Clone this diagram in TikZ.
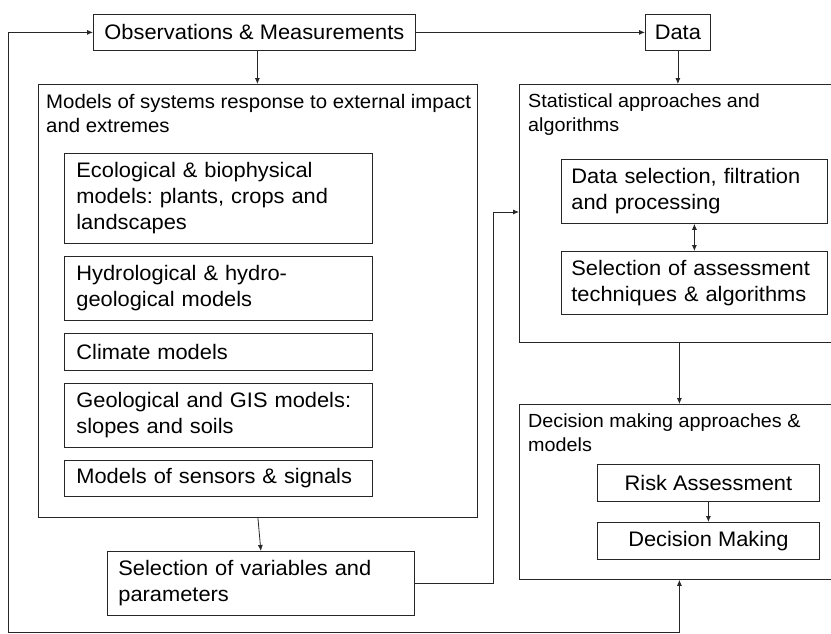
\documentclass[tikz,border=0pt]{standalone}
\usepackage{fontspec}
\setmainfont{Liberation Sans}[FakeStretch=1.04]
\usetikzlibrary{arrows.meta,calc}
\frenchspacing
\begin{document}
\begin{tikzpicture}[x=1pt,y=-1pt,
  box/.style={draw=black!85, line width=0.8pt, rectangle, inner xsep=0pt, inner ysep=0pt, anchor=north west},
  txt/.style={font=\fontsize{21}{26}\selectfont, align=left},
  ctxt/.style={font=\fontsize{21}{25}\selectfont},
  ttl/.style={font=\fontsize{19}{24}\selectfont, align=left, anchor=north west, inner sep=0pt},
  arr/.style={draw=black!85, line width=0.8pt, -{Latex[length=6pt,width=5pt]}},
  darr/.style={draw=black!85, line width=0.8pt, {Latex[length=6pt,width=5pt]}-{Latex[length=6pt,width=5pt]}}
]
\useasboundingbox (0,0) rectangle (831,633);
\fill[white] (0,0) rectangle (831,633);

% top row
\node[box, ctxt, minimum width=322pt, minimum height=36pt] (obs) at (93,14) {Observations \& Measurements};
\node[box, ctxt, minimum width=65pt, minimum height=36pt] (data) at (645,14) {Data};

% models block
\node[box, minimum width=439pt, minimum height=433pt] (models) at (38,84) {};
\node[ttl, font=\fontsize{19.6}{24}\selectfont] (modt) at (46,94) {Models of systems response to external impact\\and extremes};
\node[box, txt, minimum height=90pt, text width=284pt, inner xsep=12pt] (eco) at (64,153) {Ecological \& biophysical\\models: plants, crops and\\landscapes};
\node[box, txt, minimum height=64pt, text width=284pt, inner xsep=12pt] (hydro) at (64,256) {Hydrological \& hydro-\\geological models};
\node[box, txt, minimum height=37pt, text width=284pt, inner xsep=12pt] (clim) at (64,333) {Climate models};
\node[box, txt, minimum height=64pt, text width=284pt, inner xsep=12pt] (geo) at (64,383) {Geological and GIS models:\\slopes and soils};
\node[box, txt, minimum height=36pt, text width=284pt, inner xsep=12pt] (sens) at (64,460) {Models of sensors \& signals};

\node[box, txt, minimum height=64pt, text width=285pt, inner xsep=11pt] (sel) at (107,551) {Selection of variables and\\parameters};

% statistical block
\node[box, minimum width=320pt, minimum height=258pt] (stats) at (519,84) {};
\node[ttl] (stt) at (528,94) {Statistical approaches and\\algorithms};
\node[box, txt, minimum height=64pt, text width=246pt, inner xsep=10pt] (dsel) at (561,159) {Data selection, filtration\\and processing};
\node[box, txt, minimum height=63pt, text width=246pt, inner xsep=10pt] (assess) at (561,251) {Selection of assessment\\techniques \& algorithms};

% decision block
\node[box, minimum width=320pt, minimum height=175pt] (dec) at (519,404) {};
\node[ttl] (dect) at (528,414) {Decision making approaches \&\\models};
\node[box, ctxt, minimum width=222pt, minimum height=37pt] (risk) at (597,464) {Risk Assessment};
\node[box, ctxt, minimum width=222pt, minimum height=37pt] (dm) at (597,522) {Decision Making};

% connectors
\draw[arr] (obs.east) -- (data.west);
\draw[arr] ([xshift=3pt]obs.south) -- ([xshift=3pt]obs.south |- models.north);
\draw[arr] (data.south) -- (data.south |- stats.north);
\draw[darr] (dsel.south -| assess.north) -- (assess.north);
\draw[arr] (stats.south) -- (dec.north);
\draw[arr] (risk.south) -- (dm.north);
\draw[arr] (models.south) -- (sel.north);
\coordinate (bend) at (493,212);
\draw[arr] (sel.east) -| (bend) -- (bend -| stats.west);
\coordinate (fbl) at (8,632);
\draw[darr] (dec.south) -- (dec.south |- fbl) -- (fbl) |- (obs.west);
\end{tikzpicture}
\end{document}
